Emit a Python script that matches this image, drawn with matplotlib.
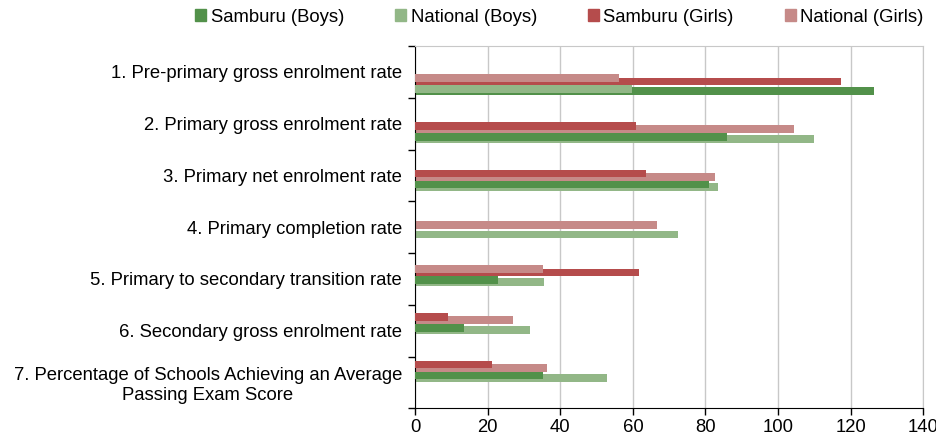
import numpy as np
import matplotlib.pyplot as plt
from matplotlib.patches import Patch

plt.rcParams['font.family'] = ['Liberation Sans', 'DejaVu Sans']

categories = [
    "1. Pre-primary gross enrolment rate",
    "2. Primary gross enrolment rate",
    "3. Primary net enrolment rate",
    "4. Primary completion rate",
    "5. Primary to secondary transition rate",
    "6. Secondary gross enrolment rate",
    "7. Percentage of Schools Achieving an Average\nPassing Exam Score",
]
samburu_boys = [126.5, 85.9, 80.9, 0, 22.8, 13.4, 35.2]
national_boys = [59.7, 109.8, 83.6, 72.4, 35.5, 31.6, 52.8]
samburu_girls = [117.5, 60.8, 63.5, 0, 61.6, 9.0, 21.1]
national_girls = [56.1, 104.3, 82.6, 66.6, 35.2, 26.9, 36.3]
xticks = [0, 20, 40, 60, 80, 100, 120, 140]

c_sb = "#52914a"
c_nb = "#92b787"
c_sg = "#b54c4c"
c_ng = "#c68a88"
fs = 13.3

fig = plt.figure(figsize=(9.37, 4.46), dpi=100)
ax = fig.add_axes([0.4432, 0.0845, 0.9851 - 0.4432, 0.8969 - 0.0845])

n = len(categories)
h = 0.15
# the bar groups drift slightly against the label bands in the original
group_top = np.arange(n) * 0.9226 + 0.0416

pairs = [
    (samburu_girls, national_girls, c_sg, c_ng, 0.077, 0.145),
    (samburu_boys, national_boys, c_sb, c_nb, 0.29, 0.333),
]
for i in range(n):
    for sam, nat, cs, cn, off_up, off_low in pairs:
        # shorter bar sits higher and is drawn on top
        if sam[i] <= nat[i]:
            up, upc, low, lowc = sam[i], cs, nat[i], cn
        else:
            up, upc, low, lowc = nat[i], cn, sam[i], cs
        ax.barh(group_top[i] + off_low, low, height=h, color=lowc, zorder=2)
        ax.barh(group_top[i] + off_up, up, height=h, color=upc, zorder=3)

ax.set_xlim(0, 140)
ax.set_ylim(n - 0.5, -0.5)
ax.set_xticks(xticks)
ax.set_xticklabels([str(t) for t in xticks])
ax.xaxis.grid(True, color="#c8c8c8", linewidth=1, zorder=0)
ax.set_axisbelow(True)

ax.set_yticks(np.arange(n))
ax.set_yticklabels(categories)
ax.set_yticks(np.arange(n + 1) - 0.5, minor=True)
ax.tick_params(axis="y", which="major", length=0, pad=9.4, labelsize=fs)
ax.tick_params(axis="y", which="minor", length=5, width=1, direction="out")
ax.tick_params(axis="x", length=5, width=1, direction="out", pad=3, labelsize=fs)
for lab in ax.get_yticklabels():
    lab.set_multialignment("center")

for s in ["top", "right"]:
    ax.spines[s].set_color("#c8c8c8")
for s in ["left", "bottom"]:
    ax.spines[s].set_color("black")

handles = [Patch(color=c_sb), Patch(color=c_nb), Patch(color=c_sg), Patch(color=c_ng)]
labels = ["Samburu (Boys)", "National (Boys)", "Samburu (Girls)", "National (Girls)"]
fig.legend(handles, labels, loc="center", bbox_to_anchor=(0.597, 1 - 17 / 446),
           ncol=4, frameon=False, fontsize=fs, handlelength=0.6, handleheight=0.6,
           handletextpad=0.25, columnspacing=2.75, borderpad=0)

fig.savefig("out.png", dpi=100)
